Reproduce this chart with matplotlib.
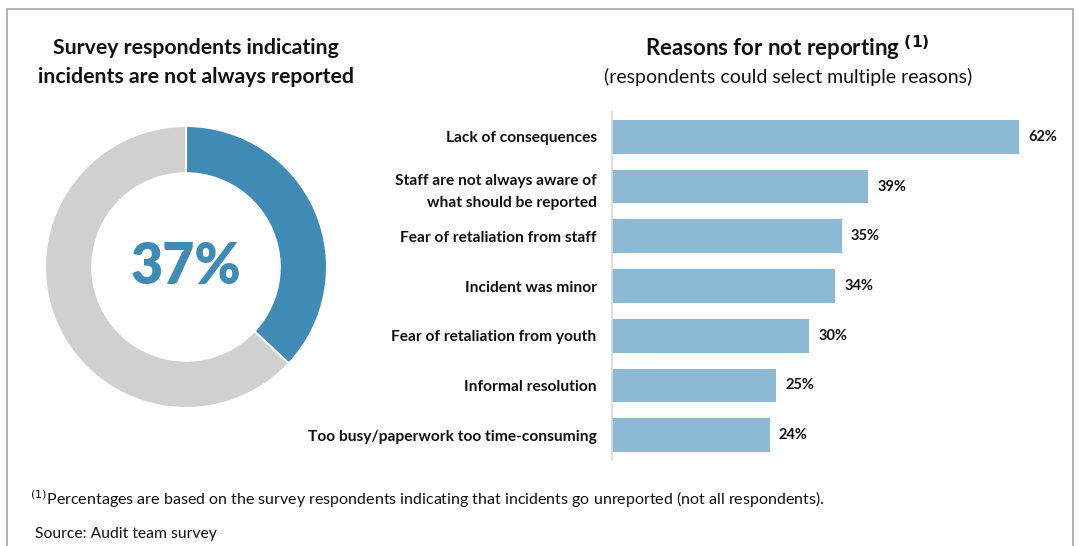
import matplotlib
matplotlib.use("Agg")
import matplotlib.pyplot as plt
from matplotlib.patches import Rectangle

# Data
donut_labels = ["Not always reported", "Other"]
donut_values = [37, 63]
categories = ["Lack of consequences",
              "Staff are not always aware of\nwhat should be reported",
              "Fear of retaliation from staff",
              "Incident was minor",
              "Fear of retaliation from youth",
              "Informal resolution",
              "Too busy/paperwork too time-consuming"]
values = [62, 39, 35, 34, 30, 25, 24]

FONT = "Lato"
plt.rcParams['font.family'] = [FONT, 'DejaVu Sans']

W, H = 1082, 546
fig = plt.figure(figsize=(W / 100, H / 100), dpi=100)

def fx(px):
    return px / W

def fy(py):
    return 1 - py / H

# border frame
fig.patches.append(Rectangle((fx(7), fy(560)), fx(1073 - 7), fy(9) - fy(560),
                             transform=fig.transFigure, fill=False,
                             edgecolor="#A6A6A6", linewidth=1.2))

# Donut
cx, cy, r = 186, 267, 141
axd = fig.add_axes([fx(cx - r), fy(cy + r), fx(2 * r), (2 * r) / H])
axd.pie(donut_values, colors=["#408AB6", "#D0D0D0"], startangle=90,
        counterclock=False, radius=1,
        wedgeprops=dict(width=0.335, edgecolor="white", linewidth=1.5))
axd.set_xlim(-1, 1)
axd.set_ylim(-1, 1)
axd.set_aspect("equal")
axd.axis("off")
axd.text(0, 0, f"{donut_values[0]}%", ha="center", va="center",
         fontsize=40, fontweight="heavy", color="#408AB6")

fig.text(fx(196), fy(48), "Survey respondents indicating", ha="center",
         va="center", fontsize=15.3, fontweight="bold", color="#111111")
fig.text(fx(196), fy(77), "incidents are not always reported", ha="center",
         va="center", fontsize=15.3, fontweight="bold", color="#111111")

# Bar chart
x0, x1 = 612, 1060
y0, y1 = 112, 460
axb = fig.add_axes([fx(x0), fy(y1), fx(x1 - x0), (y1 - y0) / H])
ypos = list(range(len(categories)))
axb.barh(ypos, values, height=0.68, color="#8CB9D4", edgecolor="none")
axb.set_ylim(len(categories) - 0.5, -0.5)
axb.set_xlim(0, (x1 - x0) / (407 / 62))
axb.set_yticks(ypos)
axb.set_yticklabels(categories, fontsize=11.2, fontweight="bold",
                    color="#111111", linespacing=1.75)
axb.tick_params(axis="y", length=0, pad=11)
axb.set_xticks([])
for s in ["top", "right", "bottom"]:
    axb.spines[s].set_visible(False)
axb.spines["left"].set_color("#D9D9D9")
axb.spines["left"].set_linewidth(1.2)
for y, v in zip(ypos, values):
    axb.text(v + 1.4, y, f"{v}%", va="center", ha="left", fontsize=10.5,
             fontweight="bold", color="#111111")

fig.text(fx(787), fy(48), r"Reasons for not reporting $^{\mathbf{(1)}}$",
         ha="center", va="center", fontsize=16, fontweight="bold",
         color="#111111")
fig.text(fx(788), fy(77), "(respondents could select multiple reasons)",
         ha="center", va="center", fontsize=14, color="#111111")

# Footnotes
fig.text(fx(30), fy(499),
         r"$^{(1)}$Percentages are based on the survey respondents indicating that incidents go unreported (not all respondents).",
         ha="left", va="center", fontsize=11.5, color="#111111")
fig.text(fx(35), fy(534), "Source: Audit team survey", ha="left",
         va="center", fontsize=11.3, color="#111111")

fig.savefig("out.png", dpi=100)
